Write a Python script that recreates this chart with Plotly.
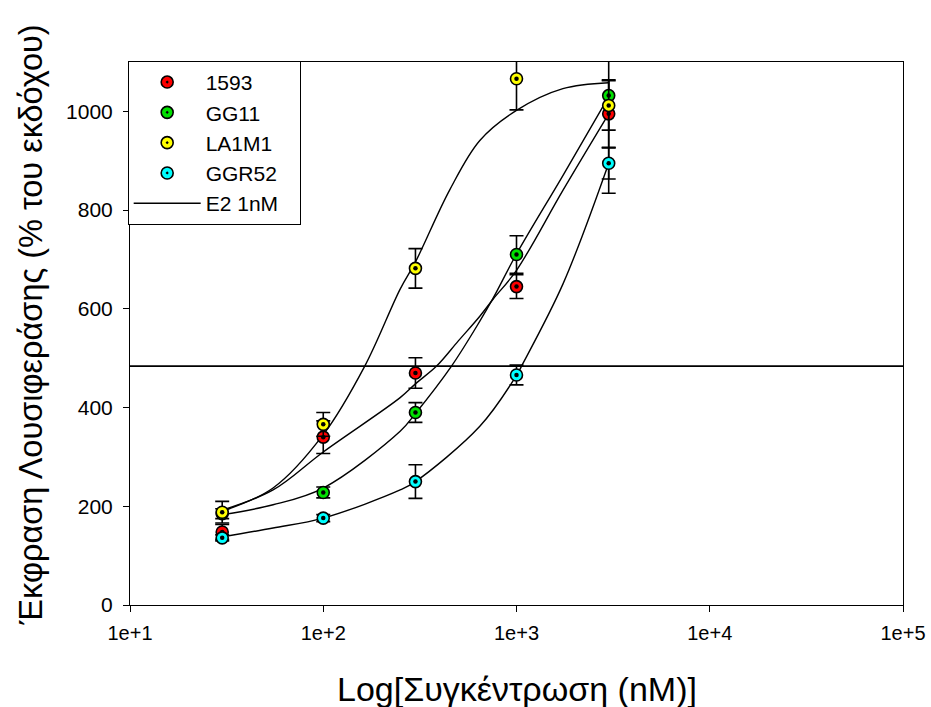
import plotly.graph_objects as go

# ---- data ----
conc = [30, 100, 300, 1000, 3000]  # nM

series_names = ["1593", "GG11", "LA1M1", "GGR52\u00a0\u00a0\u00a0"]
series_colors = ["#FF0000", "#00E000", "#FFFF00", "#00FFFF"]

y_1593 = [148, 340, 470, 645, 995]
e_1593 = [15, 33, 31, 24, 69]
y_GG11 = [185, 228, 390, 710, 1032]
e_GG11 = [10, 11, 20, 38, 198]
y_LA1M1 = [188, 366, 682, 1066, 1012]
e_LA1M1 = [22, 24, 40, 63, 50]
y_GGR52 = [136, 176, 250, 466, 895]
e_GGR52 = [6, 7, 34, 20, 32]

# fitted curves
cx_1593 = [30, 55, 100, 250, 300, 386, 500, 646, 758, 1000, 1738, 3000]
cy_1593 = [192, 233, 310, 420, 448, 484, 535, 585, 620, 678, 840, 995]
cx_GG11 = [30, 55, 100, 250, 300, 461, 646, 758, 1000, 1738, 3000]
cy_GG11 = [183, 203, 237, 352, 388, 484, 575, 622, 711, 870, 1030]
cx_LA1M1 = [30, 55, 100, 164, 250, 300, 450, 646, 1000, 1738, 3000]
cy_LA1M1 = [190, 237, 345, 484, 640, 695, 840, 941, 1002, 1046, 1058]
cx_GGR52 = [30, 55, 100, 250, 300, 646, 1000, 1062, 1738, 3000]
cy_GGR52 = [138, 156, 176, 233, 250, 362, 465, 484, 650, 895]

e2_level = 484
x_tickvals = [1e1, 1e2, 1e3, 1e4, 1e5]
x_ticktext = ["1e+1", "1e+2", "1e+3", "1e+4", "1e+5"]
y_tickvals = [0, 200, 400, 600, 800, 1000]

x_title = "Log[Συγκέντρωση (nM)]"
y_title = "Έκφραση Λουσιφεράσης (% του εκδόχου)"

FONT = "Liberation Sans, Arial, sans-serif"

fig = go.Figure()

curves = [(cx_1593, cy_1593), (cx_GG11, cy_GG11), (cx_LA1M1, cy_LA1M1), (cx_GGR52, cy_GGR52)]
for cx, cy in curves:
    fig.add_trace(go.Scatter(x=cx, y=cy, mode="lines", line=dict(color="black", width=1.4, shape="spline"),
                             showlegend=False, hoverinfo="skip"))

fig.add_trace(go.Scatter(x=[1e1, 1e5], y=[e2_level, e2_level], mode="lines",
                         line=dict(color="black", width=1.6), showlegend=False, hoverinfo="skip"))

pts = [(y_1593, e_1593), (y_GG11, e_GG11), (y_LA1M1, e_LA1M1), (y_GGR52, e_GGR52)]
for name, color, (yy, ee) in zip(series_names, series_colors, pts):
    fig.add_trace(go.Scatter(
        x=conc, y=yy, name=name, mode="markers",
        marker=dict(symbol="circle-dot", size=12, color=color, line=dict(color="black", width=1.6)),
        error_y=dict(type="data", array=ee, visible=True, color="black", thickness=1.6, width=7),
    ))
    # black centre dots
    fig.add_trace(go.Scatter(
        x=conc, y=yy, mode="markers", showlegend=False, hoverinfo="skip",
        marker=dict(symbol="circle", size=4.5, color="black"),
    ))

# legend-only entry for the E2 line
fig.add_trace(go.Scatter(x=[None], y=[None], mode="lines", name="E2 1nM",
                         line=dict(color="black", width=1.5)))

fig.update_layout(
    width=931, height=707,
    margin=dict(l=130, r=28, t=62, b=102),
    paper_bgcolor="white", plot_bgcolor="white",
    font=dict(family=FONT, color="black", size=20),
    showlegend=True,
    legend=dict(x=-0.003, y=1.002, xanchor="left", yanchor="top",
                bgcolor="white", bordercolor="black", borderwidth=1,
                font=dict(family=FONT, size=21, color="black"),
                itemwidth=67, tracegroupgap=0),
    xaxis=dict(type="log", range=[1, 5], tickvals=x_tickvals, ticktext=x_ticktext,
               showgrid=False, zeroline=False, showline=True, linecolor="black", linewidth=1,
               mirror=True, ticks="outside", ticklen=6, tickcolor="black",
               tickfont=dict(size=20), ticklabelstandoff=4, automargin=False),
    yaxis=dict(range=[0, 1100], tickvals=y_tickvals,
               showgrid=False, zeroline=False, showline=True, linecolor="black", linewidth=1,
               mirror=True, ticks="outside", ticklen=6, tickcolor="black",
               tickfont=dict(size=21), ticklabelstandoff=6, automargin=False),
    annotations=[
        dict(text=x_title, xref="paper", yref="paper", x=0.5, y=-0.155, xanchor="center", yanchor="middle",
             showarrow=False, font=dict(size=34, family=FONT, color="black")),
        dict(text=y_title, xref="paper", yref="paper", x=-0.128, y=0.515, xanchor="center", yanchor="middle",
             textangle=-90, showarrow=False, font=dict(size=32.5, family=FONT, color="black")),
    ],
)

fig.write_html("out.html")
